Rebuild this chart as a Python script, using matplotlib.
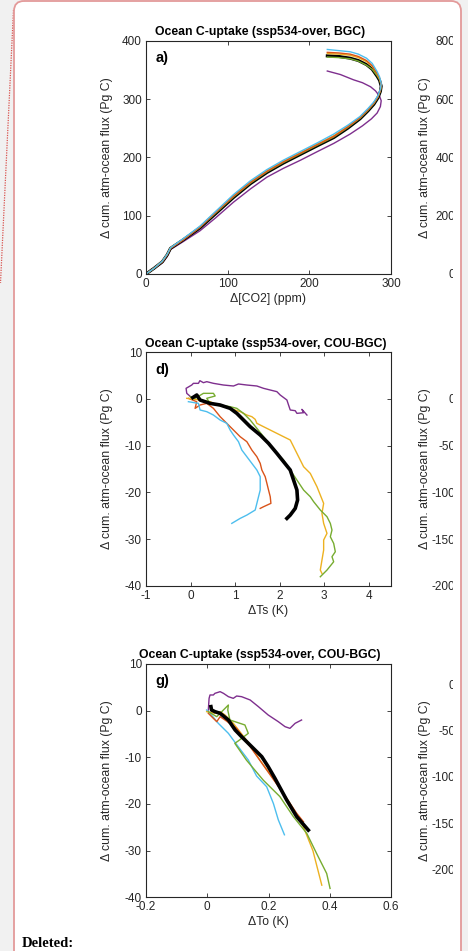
import matplotlib
matplotlib.use("Agg")
import matplotlib.pyplot as plt
from matplotlib.patches import FancyBboxPatch, Rectangle
from matplotlib.lines import Line2D

plt.rcParams['font.family'] = ['Liberation Sans', 'DejaVu Sans']
plt.rcParams['axes.unicode_minus'] = False

W, H = 468, 951
DPI = 100

# ---------------- colours (MATLAB default order) ----------------
C_BLACK = '#000000'
C_RED = '#D95319'
C_YEL = '#EDB120'
C_PUR = '#7E2F8E'
C_GRN = '#77AC30'
C_CYA = '#4DBEEE'

# ---------------- panel a data: d[CO2] (ppm) vs cum. flux (Pg C) ----------------
a_x_bundle = [0, 10, 20, 26, 30, 45, 66, 85, 107, 128, 148, 168, 189, 210, 230, 247,
              262, 272, 279, 284, 287, 288, 286, 283, 277, 270, 260, 250, 236, 222]
a_y_black = [0, 10, 21, 33, 44, 58, 79, 103, 131, 155, 174, 190, 205, 220, 234, 250,
             266, 280, 291, 302, 313, 322, 332, 339, 351, 359, 366, 370, 373, 374]
a_y_green = [0, 10, 21, 33, 44, 58, 80, 104, 132, 156, 175, 191, 206, 221, 235, 251,
             267, 281, 292, 303, 314, 323, 333, 340, 351, 358, 365, 369, 371, 372]
a_y_yellow = [0, 10, 22, 34, 45, 59, 81, 106, 134, 158, 177, 193, 208, 223, 237, 253,
              268, 282, 293, 304, 315, 325, 335, 343, 356, 364, 371, 375, 377, 378]
a_y_red = [0, 10, 21, 33, 44, 58, 80, 105, 133, 157, 176, 192, 207, 222, 236, 252,
           268, 282, 293, 304, 315, 325, 336, 344, 357, 366, 373, 377, 379, 380]
a_y_cyan = [0, 10, 22, 34, 45, 60, 82, 107, 136, 160, 179, 195, 210, 225, 240, 255,
            270, 284, 295, 306, 317, 327, 338, 347, 361, 370, 377, 381, 383, 385]
a_x_purple = [0, 10, 20, 26, 30, 45, 66, 85, 107, 128, 148, 168, 189, 210, 230, 250,
              265, 276, 283, 287, 288, 286, 281, 275, 265, 254, 238, 222]
a_y_purple = [0, 9, 19, 30, 42, 55, 74, 96, 123, 146, 166, 181, 195, 210, 224, 240,
              254, 266, 276, 287, 297, 305, 314, 321, 328, 333, 342, 348]

# ---------------- panel d data: dTs (K) vs cum. flux (Pg C) ----------------
d_pur_x = [0.0, -0.085, -0.10, 0.027, 0.064, 0.177, 0.21, 0.289, 0.364, 0.514, 0.739,
           0.964, 1.076, 1.264, 1.489, 1.639, 1.789, 1.938, 2.013, 2.163, 2.2, 2.238,
           2.35, 2.388, 2.538, 2.5, 2.613]
d_pur_y = [0.5, 1.21, 2.28, 2.99, 3.35, 3.35, 3.92, 3.49, 3.71, 3.35, 2.99, 2.78, 3.21,
           2.99, 2.78, 2.28, 1.92, 1.57, 0.85, -0.22, -1.29, -2.36, -2.51, -3.08, -2.94,
           -2.22, -3.44]
d_blk_x = [0.05, 0.14, 0.214, 0.439, 0.664, 0.889, 1.039, 1.189, 1.339, 1.564, 1.751,
           1.938, 2.088, 2.238, 2.313, 2.388, 2.403, 2.35, 2.238, 2.163]
d_blk_y = [0.3, 0.85, -0.22, -0.94, -1.29, -2.01, -3.08, -4.51, -5.94, -7.72, -9.51,
           -11.65, -13.44, -15.22, -17.37, -19.51, -21.65, -23.44, -24.87, -25.58]
d_grn_x = [-0.01, 0.102, 0.289, 0.514, 0.552, 0.364, 0.439, 0.664, 0.889, 1.039, 1.189,
           1.264, 1.339, 1.489, 1.639, 1.789, 1.938, 2.088, 2.238, 2.388, 2.538, 2.688,
           2.763, 2.913, 3.063, 3.138, 3.175, 3.138, 3.213, 3.25, 3.175, 3.213, 3.063,
           2.913]
d_grn_y = [0.49, 0.14, 1.21, 1.21, 0.64, 0.14, -0.94, -1.29, -1.65, -2.01, -3.08,
           -3.79, -4.51, -6.29, -8.08, -9.87, -11.65, -13.08, -15.22, -17.37, -19.51,
           -20.94, -22.0, -23.79, -25.22, -26.65, -28.08, -29.51, -30.94, -32.72, -33.79,
           -34.87, -36.65, -38.08]
d_yel_x = [-0.085, 0.214, 0.439, 0.589, 0.889, 1.114, 1.264, 1.376, 1.451, 1.489, 1.639,
           1.864, 2.088, 2.238, 2.313, 2.388, 2.463, 2.538, 2.688, 2.763, 2.838, 2.913,
           2.988, 2.95, 2.988, 3.063, 2.988, 2.988, 2.95, 2.913, 2.95]
d_yel_y = [0.14, -0.22, -0.58, -1.29, -2.01, -2.72, -3.44, -3.79, -4.36, -5.22, -5.94,
           -7.01, -8.08, -8.79, -10.22, -11.65, -13.08, -14.51, -15.94, -17.37, -18.79,
           -20.58, -22.36, -24.51, -26.65, -28.79, -30.22, -32.37, -34.51, -36.65, -37.37]
d_red_x = [-0.048, 0.139, 0.102, 0.214, 0.364, 0.514, 0.664, 0.814, 0.964, 1.114, 1.264,
           1.376, 1.489, 1.564, 1.601, 1.676, 1.714, 1.751, 1.789, 1.804, 1.639, 1.564]
d_red_y = [0.14, -0.58, -2.01, -1.29, -0.94, -2.01, -3.79, -5.22, -6.65, -8.08, -9.15,
           -10.94, -12.37, -13.79, -15.22, -16.65, -18.08, -19.51, -20.94, -22.36, -23.08,
           -23.44]
d_cya_x = [-0.048, 0.177, 0.214, 0.364, 0.514, 0.664, 0.814, 0.889, 0.964, 1.076, 1.151,
           1.264, 1.376, 1.489, 1.564, 1.564, 1.564, 1.526, 1.489, 1.451, 1.264, 1.114,
           0.926]
d_cya_y = [-0.58, -0.94, -2.36, -2.72, -3.44, -4.51, -5.22, -6.65, -7.72, -9.15, -10.94,
           -12.37, -13.79, -15.22, -16.65, -18.08, -19.51, -20.94, -22.36, -23.79, -24.87,
           -25.58, -26.65]

# ---------------- panel g data: dTo (K) vs cum. flux (Pg C) ----------------
g_pur_x = [0.0035, 0.006, 0.009, 0.02, 0.025, 0.042, 0.053, 0.069, 0.085, 0.096, 0.112,
           0.14, 0.167, 0.199, 0.232, 0.254, 0.27, 0.287, 0.308]
g_pur_y = [0.14, 2.64, 3.36, 3.36, 3.71, 4.07, 3.71, 3.0, 2.64, 3.14, 3.0, 2.29, 0.86,
           -0.93, -2.36, -3.43, -3.79, -2.71, -2.0]
g_blk_x = [0.012, 0.014, 0.025, 0.042, 0.069, 0.091, 0.112, 0.134, 0.156, 0.178, 0.199,
           0.221, 0.259, 0.292, 0.33]
g_blk_y = [0.86, 0.14, -0.21, -0.57, -2.0, -4.14, -5.57, -7.0, -8.43, -9.86, -12.0,
           -14.5, -19.1, -22.7, -25.6]
g_grn_x = [0.0035, 0.031, 0.069, 0.067, 0.074, 0.123, 0.134, 0.101, 0.09, 0.128, 0.183,
           0.237, 0.281, 0.325, 0.357, 0.39, 0.401]
g_grn_y = [-0.21, -1.29, 1.21, 0.14, -2.0, -3.07, -4.86, -6.5, -7.0, -10.6, -14.9, -18.4,
           -22.7, -26.3, -30.6, -34.9, -38.1]
g_yel_x = [-0.002, 0.025, 0.042, 0.058, 0.085, 0.128, 0.172, 0.227, 0.27, 0.314, 0.345,
           0.374]
g_yel_y = [-0.21, -0.57, -0.21, -0.93, -2.7, -6.3, -10.6, -15.6, -19.9, -24.9, -30.0,
           -37.4]
g_red_x = [0.0035, 0.031, 0.042, 0.058, 0.096, 0.14, 0.194, 0.248, 0.292, 0.314]
g_red_y = [-0.57, -2.36, -1.29, -2.0, -3.8, -7.7, -12.7, -17.7, -22.0, -23.8]
g_cya_x = [-0.002, 0.009, 0.036, 0.069, 0.101, 0.134, 0.161, 0.194, 0.216, 0.232, 0.252]
g_cya_y = [0.14, -0.57, -2.71, -4.86, -7.71, -10.57, -14.0, -16.3, -19.9, -23.4, -26.6]

# ---------------- text ----------------
titles = ['Ocean C-uptake (ssp534-over, BGC)',
          'Ocean C-uptake (ssp534-over, COU-BGC)',
          'Ocean C-uptake (ssp534-over, COU-BGC)']
title_x = [0.465, 0.49, 0.465]
letters = ['a)', 'd)', 'g)']
xlabels = ['\u0394[CO2] (ppm)', '\u0394Ts (K)', '\u0394To (K)']
ylabel = '\u0394 cum. atm-ocean flux (Pg C)'

a_xticks = [0, 100, 200, 300]
a_yticks = [0, 100, 200, 300, 400]
d_xticks = [-1, 0, 1, 2, 3, 4]
d_yticks = [-40, -30, -20, -10, 0, 10]
g_xticks = [-0.2, 0, 0.2, 0.4, 0.6]
g_xticklabels = ['-0.2', '0', '0.2', '0.4', '0.6']
g_yticks = [-40, -30, -20, -10, 0, 10]
right_a_ticks = [0, 200, 400, 600, 800]
right_dg_ticks = [-200, -150, -100, -50, 0]

TXT = '#262626'
FS_TICK = 8.5
FS_LAB = 8.8
FS_TITLE = 8.8

fig = plt.figure(figsize=(W / DPI, H / DPI), dpi=DPI)
fig.patch.set_facecolor('#f1f1f1')


def px_rect(x0, y0, x1, y1):
    return [x0 / W, 1 - y1 / H, (x1 - x0) / W, (y1 - y0) / H]


# background page (white comment box)
bg = fig.add_axes([0, 0, 1, 1], zorder=-5)
bg.set_xlim(0, W)
bg.set_ylim(H, 0)
bg.axis('off')
bg.add_patch(FancyBboxPatch((14, 1), 447, 1000, boxstyle='round,pad=0,rounding_size=10',
                            facecolor='white', edgecolor='none'))
bg.add_line(Line2D([13.5, 0.5], [10, 283], color='#d9534f', lw=0.9, ls=(0, (1, 1))))
bg.text(22, 947, 'Deleted:', family=['Liberation Serif'], fontweight='bold',
        fontsize=10.5, color='black', va='baseline', ha='left')


def style_axes(ax):
    for s in ax.spines.values():
        s.set_color(TXT)
        s.set_linewidth(0.8)
    ax.tick_params(direction='in', top=True, right=True, length=3, width=0.6,
                   colors=TXT, labelsize=FS_TICK, pad=3)
    ax.set_facecolor('white')


axes_px = [(146, 40.7, 391, 274), (146, 352.3, 391, 585.7), (146, 664, 391, 897.3)]

# ---------- panel a ----------
ax = fig.add_axes(px_rect(*axes_px[0]))
style_axes(ax)
ax.plot(a_x_purple, a_y_purple, color=C_PUR, lw=1.0)
ax.plot(a_x_bundle, a_y_black, color=C_BLACK, lw=2.2)
ax.plot(a_x_bundle, a_y_green, color=C_GRN, lw=1.0)
ax.plot(a_x_bundle, a_y_yellow, color=C_YEL, lw=1.0)
ax.plot(a_x_bundle, a_y_red, color=C_RED, lw=1.0)
ax.plot(a_x_bundle, a_y_cyan, color=C_CYA, lw=1.0)
ax.set_xlim(0, 300)
ax.set_ylim(0, 400)
ax.set_xticks(a_xticks)
ax.set_yticks(a_yticks)
axA = ax

# ---------- panel d ----------
ax = fig.add_axes(px_rect(*axes_px[1]))
style_axes(ax)
ax.plot(d_pur_x, d_pur_y, color=C_PUR, lw=1.0)
ax.plot(d_red_x, d_red_y, color=C_RED, lw=1.0)
ax.plot(d_cya_x, d_cya_y, color=C_CYA, lw=1.0)
ax.plot(d_yel_x, d_yel_y, color=C_YEL, lw=1.0)
ax.plot(d_grn_x, d_grn_y, color=C_GRN, lw=1.0)
ax.plot(d_blk_x, d_blk_y, color=C_BLACK, lw=2.6)
ax.set_xlim(-1, 4.5)
ax.set_ylim(-40, 10)
ax.set_xticks(d_xticks)
ax.set_yticks(d_yticks)
axD = ax

# ---------- panel g ----------
ax = fig.add_axes(px_rect(*axes_px[2]))
style_axes(ax)
ax.plot(g_pur_x, g_pur_y, color=C_PUR, lw=1.0)
ax.plot(g_cya_x, g_cya_y, color=C_CYA, lw=1.0)
ax.plot(g_yel_x, g_yel_y, color=C_YEL, lw=1.0)
ax.plot(g_red_x, g_red_y, color=C_RED, lw=1.0)
ax.plot(g_grn_x, g_grn_y, color=C_GRN, lw=1.0)
ax.plot(g_blk_x, g_blk_y, color=C_BLACK, lw=2.6)
ax.set_xlim(-0.2, 0.6)
ax.set_ylim(-40, 10)
ax.set_xticks(g_xticks)
ax.set_xticklabels(g_xticklabels)
ax.set_yticks(g_yticks)
axG = ax

for ax, t, tx, l, xl in zip([axA, axD, axG], titles, title_x, letters, xlabels):
    ax.set_title(t, fontsize=FS_TITLE, fontweight='bold', color='black', pad=4, x=tx)
    ax.text(0.04, 0.955, l, transform=ax.transAxes, fontsize=10.5, fontweight='bold',
            va='top', ha='left', color='black')
    ax.set_xlabel(xl, fontsize=FS_LAB, color=TXT, labelpad=2)
    ax.set_ylabel(ylabel, fontsize=FS_LAB, color=TXT)
    pos = ax.get_position()
    ax.yaxis.set_label_coords(113 / W, pos.y0 + pos.height / 2, transform=fig.transFigure)

# ---------- clipped right-hand column ----------
right_specs = [((458, 40.7, 700, 274), (0, 800), right_a_ticks),
               ((458, 352.3, 700, 585.7), (-200, 50), right_dg_ticks),
               ((458, 664, 700, 897.3), (-230, 21.6), right_dg_ticks)]
for (rect, lim, ticks) in right_specs:
    r = fig.add_axes(px_rect(*rect), zorder=-1)
    r.set_facecolor('none')
    for s in r.spines.values():
        s.set_visible(False)
    r.set_ylim(*lim)
    r.set_yticks(ticks)
    r.set_xticks([])
    r.tick_params(axis='y', length=0, pad=2, labelsize=FS_TICK, colors=TXT)
    r.set_ylabel(ylabel, fontsize=FS_LAB, color=TXT)
    pos = r.get_position()
    r.yaxis.set_label_coords(431 / W, pos.y0 + pos.height / 2, transform=fig.transFigure)

# ---------- overlay: clipping + border ----------
ov = fig.add_axes([0, 0, 1, 1], zorder=10)
ov.set_xlim(0, W)
ov.set_ylim(H, 0)
ov.axis('off')
ov.patch.set_visible(False)
ov.add_patch(Rectangle((453, 20), 8, 900, facecolor='white', edgecolor='none'))
ov.add_patch(Rectangle((461.5, 10), 10, 960, facecolor='#f1f1f1', edgecolor='none'))
ov.add_patch(FancyBboxPatch((14, 1), 447, 1000, boxstyle='round,pad=0,rounding_size=10',
                            facecolor='none', edgecolor='#e39a9a', lw=1.3))

fig.savefig('out.png', dpi=DPI, facecolor=fig.get_facecolor())
